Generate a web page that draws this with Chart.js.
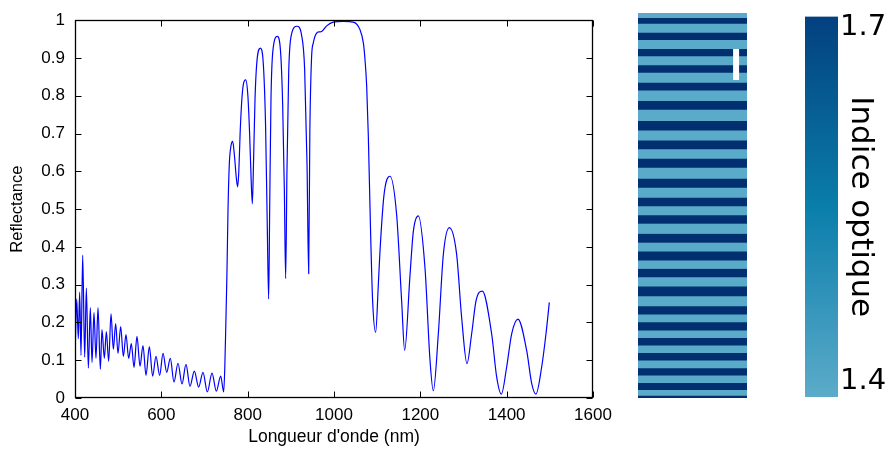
<!DOCTYPE html>
<html>
<head>
<meta charset="utf-8">
<script src="https://cdn.jsdelivr.net/npm/chart.js@4.4.1/dist/chart.umd.min.js"></script>
<style>
html,body{margin:0;padding:0;background:#fff;width:889px;height:450px;overflow:hidden;}
canvas{position:absolute;top:0;}
</style>
</head>
<body>
<canvas id="spec" width="630" height="450" style="left:0"></canvas>
<canvas id="layers" width="130" height="450" style="left:630px"></canvas>
<canvas id="marker" width="130" height="450" style="left:630px"></canvas>
<canvas id="cbar" width="99" height="450" style="left:790px"></canvas>
<script>
// ---------- data ----------
const wavelengths = [
  400.0,403.9,407.7,410.8,413.9,417.8,422.4,426.3,430.9,435.5,439.4,444.0,448.6,453.3,458.7,462.5,
  468.0,472.6,478.0,483.4,488.8,494.2,499.6,505.8,512.0,518.1,524.3,530.5,536.7,543.6,550.6,557.5,
  564.5,572.2,579.9,587.6,596.1,603.9,612.4,620.8,629.3,638.6,647.9,657.1,666.4,676.4,686.5,696.5,
  706.6,717.4,727.4,737.5,744.4,747.0,749.5,752.0,754.5,757.5,761.0,765.2,769.5,773.5,776.8,779.5,
  782.5,786.5,790.0,795.4,800.5,804.5,808.0,810.8,813.5,817.0,821.0,829.3,836.5,841.5,845.5,848.6,
  851.0,854.0,858.5,868.7,876.0,881.0,885.0,888.0,891.0,895.0,901.0,914.3,925.0,932.0,937.5,941.3,
  944.0,948.0,952.1,959.8,966.0,971.4,983.0,998.5,1021.6,1044.8,1060.2,1068.0,1071.8,1075.7,1079.5,
  1084.9,1089.5,1096.5,1102.7,1106.5,1115.8,1129.7,1145.1,1156.7,1163.7,1176.0,1183.8,1195.3,1210.8,
  1222.4,1230.1,1241.7,1253.3,1267.2,1284.1,1295.7,1308.1,1318.9,1329.0,1343.6,1365.2,1376.8,1387.6,
  1400.0,1411.6,1426.2,1446.3,1457.9,1467.9,1481.1,1491.1,1498.8
];
const reflectance = [
  0.100,0.262,0.157,0.280,0.113,0.378,0.108,0.291,0.079,0.239,0.094,0.226,0.105,0.239,0.076,0.181,
  0.105,0.176,0.097,0.223,0.129,0.197,0.118,0.189,0.110,0.168,0.105,0.144,0.081,0.163,0.084,0.139,
  0.060,0.136,0.058,0.110,0.060,0.118,0.068,0.105,0.042,0.092,0.037,0.089,0.031,0.071,0.029,0.068,
  0.016,0.066,0.018,0.058,0.016,0.080,0.200,0.330,0.500,0.620,0.665,0.679,0.640,0.585,0.559,0.600,
  0.700,0.790,0.830,0.842,0.800,0.700,0.580,0.514,0.620,0.790,0.885,0.926,0.880,0.720,0.450,0.262,
  0.500,0.790,0.920,0.957,0.920,0.780,0.550,0.316,0.600,0.860,0.960,0.984,0.960,0.870,0.620,0.329,
  0.700,0.900,0.940,0.966,0.969,0.970,0.985,0.995,0.997,0.995,0.975,0.940,0.896,0.826,0.694,
  0.432,0.257,0.174,0.301,0.388,0.537,0.587,0.485,0.257,0.126,0.324,0.441,0.482,0.344,
  0.100,0.019,0.170,0.380,0.451,0.380,0.213,0.091,0.170,0.257,0.283,0.170,0.056,0.010,
  0.082,0.170,0.209,0.126,0.039,0.0105,0.082,0.170,0.253
];
const xTicks = [400, 600, 800, 1000, 1200, 1400, 1600];
const yTicks = [0, 0.1, 0.2, 0.3, 0.4, 0.5, 0.6, 0.7, 0.8, 0.9, 1];

// layer stack (top to bottom): thickness (arbitrary depth units) and optical index
const layerThickness = [4.7,5.6,9,7.4,9,7.3,9,7.3,10,7.7,10.7,8.6,11.4,9.3,10,8.7,9.6,9,11,9,10,8.4,9,8.6,
  10,9,8.7,9,8.3,8.4,9.3,9.7,10,8.3,7.7,8.3,7.3,7.7,7.3,7.7,7.7,7.3,7.3,7,5.7,2.7];
const layerIndex = layerThickness.map((_, i) => (i % 2 === 0 ? 1.4 : 1.7));
const markerDepth = [36, 67];
const markerPos = [0.9, 0.9];

const cbarRange = [1.387, 1.709];
const cbarTicks = [1.4, 1.7];

// ---------- spectrum chart ----------
const FONT = 'Liberation Sans';
const framePlugin = {
  id: 'frame',
  afterDatasetsDraw(chart) {
    const {ctx, chartArea: a, scales} = chart;
    const L = Math.round(a.left) + 0.5, R = Math.round(a.right) - 0.5;
    const T = Math.round(a.top) + 0.5, B = Math.round(a.bottom) - 0.5;
    ctx.save();
    ctx.strokeStyle = '#000';
    ctx.lineWidth = 1;
    ctx.beginPath();
    xTicks.forEach(v => {
      const px = Math.round(scales.x.getPixelForValue(v)) + 0.5;
      ctx.moveTo(px, B); ctx.lineTo(px, B - 6);
      ctx.moveTo(px, T); ctx.lineTo(px, T + 6);
    });
    yTicks.forEach(v => {
      const py = Math.round(scales.y.getPixelForValue(v)) + 0.5;
      ctx.moveTo(L, py); ctx.lineTo(L + 6, py);
      ctx.moveTo(R, py); ctx.lineTo(R - 6, py);
    });
    ctx.stroke();
    ctx.lineWidth = 1.3;
    ctx.strokeRect(L, T, R - L, B - T);
    ctx.restore();
  }
};

new Chart(document.getElementById('spec'), {
  type: 'line',
  data: {
    datasets: [{
      data: wavelengths.map((w, i) => ({x: w, y: reflectance[i]})),
      borderColor: '#0000ff',
      borderWidth: 1.2,
      pointRadius: 0,
      fill: false,
      cubicInterpolationMode: 'monotone'
    }]
  },
  options: {
    responsive: false,
    animation: false,
    devicePixelRatio: 1,
    layout: {padding: {top: 17, right: 37, left: 0, bottom: 0}},
    plugins: {legend: {display: false}, tooltip: {enabled: false}},
    scales: {
      x: {
        type: 'linear', min: 400, max: 1600,
        afterBuildTicks: s => { s.ticks = xTicks.map(v => ({value: v})); },
        afterFit: s => { s.height = 52; },
        grid: {display: false, drawTicks: false},
        border: {display: false},
        ticks: {callback: v => String(v), color: '#000', font: {family: FONT, size: 17}, padding: 7, maxRotation: 0, autoSkip: false},
        title: {display: true, text: "Longueur d'onde (nm)", color: '#000', font: {family: FONT, size: 17.5}, padding: {top: 0, bottom: 2}}
      },
      y: {
        min: 0, max: 1,
        afterBuildTicks: s => { s.ticks = yTicks.map(v => ({value: v})); },
        afterFit: s => { s.width = 75; },
        grid: {display: false, drawTicks: false},
        border: {display: false},
        ticks: {callback: v => String(v), color: '#000', font: {family: FONT, size: 17}, padding: 10},
        title: {display: true, text: 'Reflectance', color: '#000', font: {family: FONT, size: 16.5}, padding: {top: 8, bottom: 0}}
      }
    }
  },
  plugins: [framePlugin]
});

// ---------- layer stack chart ----------
const colorFor = n => (n > 1.55 ? '#012f6f' : '#5aabc9');
const totalDepth = layerThickness.reduce((a, b) => a + b, 0);
const stackPadding = {left: 8, right: 13, top: 13, bottom: 52};
new Chart(document.getElementById('layers'), {
  type: 'bar',
  data: {
    labels: ['couches'],
    datasets: layerThickness.map((t, i) => ({
      data: [t],
      backgroundColor: colorFor(layerIndex[i]),
      borderWidth: 0,
      barPercentage: 1,
      categoryPercentage: 1
    }))
  },
  options: {
    responsive: false,
    animation: false,
    devicePixelRatio: 1,
    layout: {padding: stackPadding},
    plugins: {legend: {display: false}, tooltip: {enabled: false}},
    scales: {
      x: {display: false, stacked: true},
      y: {display: false, stacked: true, reverse: true, min: 0, max: totalDepth}
    }
  }
});

// marker overlay (same geometry as the layer stack)
new Chart(document.getElementById('marker'), {
  type: 'line',
  data: {
    datasets: [{
      data: markerDepth.map((d, i) => ({x: markerPos[i], y: d})),
      borderColor: '#ffffff',
      borderWidth: 6,
      borderCapStyle: 'butt',
      pointRadius: 0
    }]
  },
  options: {
    responsive: false,
    animation: false,
    devicePixelRatio: 1,
    layout: {padding: stackPadding},
    plugins: {legend: {display: false}, tooltip: {enabled: false}},
    scales: {
      x: {type: 'linear', display: false, min: 0, max: 1},
      y: {display: false, reverse: true, min: 0, max: totalDepth}
    }
  }
});

// ---------- colour bar ----------
new Chart(document.getElementById('cbar'), {
  type: 'bar',
  data: {
    labels: [''],
    datasets: [{
      data: [cbarRange],
      borderWidth: 0,
      barPercentage: 1,
      categoryPercentage: 1,
      backgroundColor: ctx => {
        const a = ctx.chart.chartArea;
        if (!a) return '#0a7eab';
        const g = ctx.chart.ctx.createLinearGradient(0, a.bottom, 0, a.top);
        g.addColorStop(0, '#5cabc9');
        g.addColorStop(0.5, '#0a7eab');
        g.addColorStop(1, '#03407f');
        return g;
      }
    }]
  },
  options: {
    responsive: false,
    animation: false,
    devicePixelRatio: 1,
    layout: {padding: {left: 15, top: 15, bottom: 53, right: 0}},
    plugins: {legend: {display: false}, tooltip: {enabled: false}},
    scales: {
      x: {display: false},
      y: {
        position: 'right', min: cbarRange[0], max: cbarRange[1],
        afterBuildTicks: s => { s.ticks = cbarTicks.map(v => ({value: v})); },
        afterFit: s => { s.width = 51; },
        grid: {display: false, drawTicks: false},
        border: {display: false},
        ticks: {callback: v => v.toFixed(1), color: '#000', font: {family: 'DejaVu Sans', size: 29, lineHeight: 1}, padding: 2},
        title: {display: true, text: 'Indice optique', color: '#000', font: {family: 'DejaVu Sans', size: 31}, padding: {top: 10, bottom: 0}}
      }
    }
  }
});
</script>
</body>
</html>
